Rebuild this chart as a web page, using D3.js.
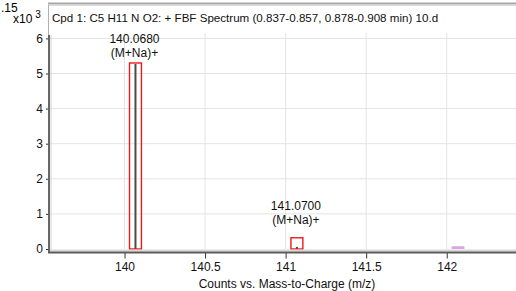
<!DOCTYPE html>
<html>
<head>
<meta charset="utf-8">
<script src="https://cdn.jsdelivr.net/npm/d3@7"></script>
<style>
  html, body { margin: 0; padding: 0; background: #fff; }
  svg { display: block; font-family: "Liberation Sans", Arial, sans-serif; }
</style>
</head>
<body>
<svg id="chart" width="516" height="291"></svg>
<script>
// spectrum peaks (m/z, counts x10^3)
var peakMz = [140.0680, 141.0700];
var peakCounts = [5.27, 0.06];
var peakLabels = ["140.0680", "141.0700"];
var peakIons = ["(M+Na)+", "(M+Na)+"];
// expected isotope boxes (red outline)
var boxMz = [140.0680, 141.0700];
var boxCounts = [5.30, 0.32];
// predicted isotope (filled plum)
var predMz = [142.07];
var predCounts = [0.05];

var xTicks = [140, 140.5, 141, 141.5, 142];
var yTicks = [0, 1, 2, 3, 4, 5, 6];
var title = "Cpd 1: C5 H11 N O2: + FBF Spectrum (0.837-0.857, 0.878-0.908 min) 10.d";
var xTitle = "Counts vs. Mass-to-Charge (m/z)";

var svg = d3.select("#chart");
var x = d3.scaleLinear().domain([139.525, 142.43]).range([48, 516]);
var y = d3.scaleLinear().domain([0, 6]).range([249, 38.4]);
var boxHalf = 0.037;

// remnants of the chart above
svg.append("line").attr("x1", 48).attr("x2", 516).attr("y1", 3.5).attr("y2", 3.5)
  .attr("stroke", "#a8a8a8").attr("stroke-width", 2);
svg.append("line").attr("x1", 48).attr("x2", 516).attr("y1", 5.5).attr("y2", 5.5)
  .attr("stroke", "#dcdcdc").attr("stroke-width", 1);
svg.append("text").attr("x", 1).attr("y", 12).attr("font-size", 12).text(".15");

// frame line on left of the title area
svg.append("line").attr("x1", 48.5).attr("x2", 48.5).attr("y1", 5).attr("y2", 36)
  .attr("stroke", "#b0b0b0");

// exponent
var ex = svg.append("text").attr("x", 13).attr("y", 23).attr("font-size", 12);
ex.append("tspan").text("x10");
ex.append("tspan").attr("dx", 3).attr("dy", -5).attr("font-size", 10).text("3");

// grid
svg.append("g").selectAll("line").data(xTicks).join("line")
  .attr("x1", function (d) { return x(d); }).attr("x2", function (d) { return x(d); })
  .attr("y1", 33).attr("y2", 249)
  .attr("stroke", "#e4e4e4").attr("stroke-width", 1);
svg.append("g").selectAll("line").data(yTicks.slice(1)).join("line")
  .attr("x1", 50).attr("x2", 516)
  .attr("y1", function (d) { return y(d); }).attr("y2", function (d) { return y(d); })
  .attr("stroke", "#e4e4e4").attr("stroke-width", 1);

// title
svg.append("text").attr("x", 52).attr("y", 22).attr("font-size", 11.6).attr("fill", "#111").text(title);

// predicted isotope
svg.append("g").selectAll("rect").data(predMz).join("rect")
  .attr("x", function (d) { return x(d - 0.04); })
  .attr("width", function (d) { return x(d + 0.04) - x(d - 0.04); })
  .attr("y", function (d, i) { return y(predCounts[i]) - 1; })
  .attr("height", function (d, i) { return y(0) - y(predCounts[i]) + 1; })
  .attr("fill", "#dda6e0");

// peaks
svg.append("g").selectAll("line").data(peakMz).join("line")
  .attr("x1", function (d) { return x(d); }).attr("x2", function (d) { return x(d); })
  .attr("y1", y(0)).attr("y2", function (d, i) { return y(peakCounts[i]); })
  .attr("stroke", "#4a4a4a").attr("stroke-width", 2);

// red boxes
svg.append("g").selectAll("rect").data(boxMz).join("rect")
  .attr("x", function (d) { return x(d - boxHalf); })
  .attr("width", function (d) { return x(d + boxHalf) - x(d - boxHalf); })
  .attr("y", function (d, i) { return y(boxCounts[i]); })
  .attr("height", function (d, i) { return y(0) - y(boxCounts[i]); })
  .attr("fill", "none").attr("stroke", "#f01818").attr("stroke-width", 1.4);

// labels
var lab = svg.append("g").selectAll("text").data(peakMz).join("text")
  .attr("text-anchor", "middle").attr("font-size", 12).attr("fill", "#111")
  .attr("x", function (d) { return x(d) - 1; })
  .attr("y", function (d, i) { return y(Math.max(boxCounts[i], 0.55)) - 20; });
lab.append("tspan").text(function (d, i) { return peakLabels[i]; });
lab.append("tspan").attr("x", function (d) { return x(d) - 1; }).attr("dy", 14)
  .text(function (d, i) { return peakIons[i]; });

// axes
var yAxis = svg.append("g").attr("transform", "translate(49,0)")
  .call(d3.axisLeft(y).tickValues(yTicks).tickSize(3).tickPadding(3).tickFormat(d3.format("d")));
yAxis.select(".domain").remove();
yAxis.selectAll("line").attr("stroke", "#333");
yAxis.selectAll("text").attr("font-size", 12).attr("font-family", "Liberation Sans, Arial, sans-serif").attr("fill", "#111");
svg.append("line").attr("x1", 49).attr("x2", 49).attr("y1", 35).attr("y2", 253)
  .attr("stroke", "#666").attr("stroke-width", 2);
svg.append("line").attr("x1", 51).attr("x2", 51).attr("y1", 35).attr("y2", 251)
  .attr("stroke", "#d0d0d0").attr("stroke-width", 1);

svg.append("line").attr("x1", 50).attr("x2", 516).attr("y1", 250.5).attr("y2", 250.5)
  .attr("stroke", "#d8d8d8").attr("stroke-width", 2);
var xAxis = svg.append("g").attr("transform", "translate(0,252.5)")
  .call(d3.axisBottom(x).tickValues(xTicks).tickSize(6).tickPadding(4)
    .tickFormat(function (d) { return d % 1 === 0 ? d3.format("d")(d) : d3.format(".1f")(d); }));
xAxis.select(".domain").remove();
xAxis.selectAll("line").attr("stroke", "#333");
xAxis.selectAll("text").attr("font-size", 12).attr("font-family", "Liberation Sans, Arial, sans-serif").attr("fill", "#111");
svg.append("line").attr("x1", 48).attr("x2", 516).attr("y1", 252.5).attr("y2", 252.5)
  .attr("stroke", "#5a5a5a").attr("stroke-width", 2);

svg.append("text").attr("x", 287).attr("y", 288).attr("text-anchor", "middle")
  .attr("font-size", 12).attr("fill", "#111").text(xTitle);
</script>
</body>
</html>
